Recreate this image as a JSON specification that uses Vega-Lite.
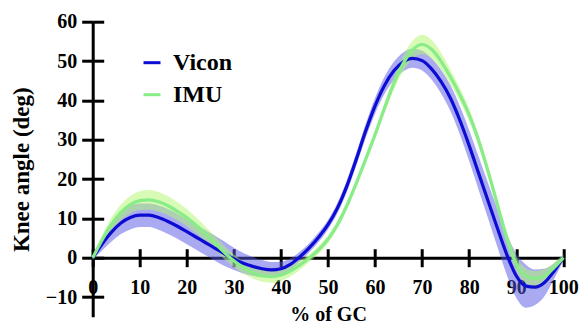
{
  "$schema": "https://vega.github.io/schema/vega-lite/v6.json",
  "width": 470.6,
  "height": 295,
  "autosize": "none",
  "padding": {"left": 92.7, "top": 21.7, "right": 18.7, "bottom": 9.3},
  "background": "white",
  "config": {"view": {"stroke": null}, "font": "Liberation Serif"},
  "data": {"values": [
    {"x": 0, "s": "Vicon", "m": 0, "lo": -0.5, "hi": 0.5},
    {"x": 2, "s": "Vicon", "m": 3.5, "lo": 1.8, "hi": 5.2},
    {"x": 4, "s": "Vicon", "m": 6.5, "lo": 4.1, "hi": 8.9},
    {"x": 6, "s": "Vicon", "m": 8.8, "lo": 6.0, "hi": 11.6},
    {"x": 8, "s": "Vicon", "m": 10.2, "lo": 7.2, "hi": 13.2},
    {"x": 10, "s": "Vicon", "m": 10.8, "lo": 7.8, "hi": 13.8},
    {"x": 12, "s": "Vicon", "m": 10.8, "lo": 7.8, "hi": 13.8},
    {"x": 14, "s": "Vicon", "m": 10.2, "lo": 7.1, "hi": 13.3},
    {"x": 16, "s": "Vicon", "m": 9.2, "lo": 6.0, "hi": 12.4},
    {"x": 18, "s": "Vicon", "m": 8.0, "lo": 4.8, "hi": 11.2},
    {"x": 20, "s": "Vicon", "m": 6.6, "lo": 3.4, "hi": 9.8},
    {"x": 22, "s": "Vicon", "m": 5.2, "lo": 2.0, "hi": 8.4},
    {"x": 24, "s": "Vicon", "m": 3.8, "lo": 0.6, "hi": 7.0},
    {"x": 26, "s": "Vicon", "m": 2.4, "lo": -0.8, "hi": 5.6},
    {"x": 28, "s": "Vicon", "m": 1.0, "lo": -2.1, "hi": 4.1},
    {"x": 30, "s": "Vicon", "m": -0.3, "lo": -3.1, "hi": 2.5},
    {"x": 32, "s": "Vicon", "m": -1.4, "lo": -4.0, "hi": 1.2},
    {"x": 34, "s": "Vicon", "m": -2.2, "lo": -4.6, "hi": 0.2},
    {"x": 36, "s": "Vicon", "m": -2.8, "lo": -5.0, "hi": -0.6},
    {"x": 38, "s": "Vicon", "m": -3.1, "lo": -5.1, "hi": -1.1},
    {"x": 40, "s": "Vicon", "m": -2.8, "lo": -4.6, "hi": -1.0},
    {"x": 42, "s": "Vicon", "m": -1.7, "lo": -3.2, "hi": -0.2},
    {"x": 44, "s": "Vicon", "m": 0.2, "lo": -1.1, "hi": 1.5},
    {"x": 46, "s": "Vicon", "m": 2.5, "lo": 1.3, "hi": 3.7},
    {"x": 48, "s": "Vicon", "m": 5.2, "lo": 4.0, "hi": 6.4},
    {"x": 50, "s": "Vicon", "m": 8.4, "lo": 7.2, "hi": 9.6},
    {"x": 52, "s": "Vicon", "m": 12.6, "lo": 11.3, "hi": 13.9},
    {"x": 54, "s": "Vicon", "m": 18.2, "lo": 16.7, "hi": 19.7},
    {"x": 56, "s": "Vicon", "m": 25.0, "lo": 23.4, "hi": 26.6},
    {"x": 58, "s": "Vicon", "m": 32.2, "lo": 30.4, "hi": 34.0},
    {"x": 60, "s": "Vicon", "m": 38.6, "lo": 36.6, "hi": 40.6},
    {"x": 62, "s": "Vicon", "m": 43.8, "lo": 41.6, "hi": 46.0},
    {"x": 64, "s": "Vicon", "m": 47.5, "lo": 45.2, "hi": 49.8},
    {"x": 66, "s": "Vicon", "m": 49.8, "lo": 47.4, "hi": 52.2},
    {"x": 68, "s": "Vicon", "m": 50.7, "lo": 48.3, "hi": 53.1},
    {"x": 70, "s": "Vicon", "m": 50.1, "lo": 47.6, "hi": 52.6},
    {"x": 72, "s": "Vicon", "m": 48.0, "lo": 45.3, "hi": 50.7},
    {"x": 74, "s": "Vicon", "m": 44.8, "lo": 41.8, "hi": 47.8},
    {"x": 76, "s": "Vicon", "m": 40.6, "lo": 37.3, "hi": 43.9},
    {"x": 78, "s": "Vicon", "m": 35.0, "lo": 31.4, "hi": 38.6},
    {"x": 80, "s": "Vicon", "m": 28.5, "lo": 24.6, "hi": 32.4},
    {"x": 82, "s": "Vicon", "m": 21.5, "lo": 17.3, "hi": 25.7},
    {"x": 84, "s": "Vicon", "m": 14.5, "lo": 10.0, "hi": 19.0},
    {"x": 86, "s": "Vicon", "m": 7.5, "lo": 2.7, "hi": 12.3},
    {"x": 88, "s": "Vicon", "m": 0.8, "lo": -4.4, "hi": 6.0},
    {"x": 90, "s": "Vicon", "m": -4.6, "lo": -10.2, "hi": 1.0},
    {"x": 92, "s": "Vicon", "m": -7.2, "lo": -12.7, "hi": -1.7},
    {"x": 94, "s": "Vicon", "m": -7.5, "lo": -12.0, "hi": -3.0},
    {"x": 96, "s": "Vicon", "m": -6.3, "lo": -9.8, "hi": -2.8},
    {"x": 98, "s": "Vicon", "m": -3.5, "lo": -5.5, "hi": -1.5},
    {"x": 100, "s": "Vicon", "m": 0, "lo": -0.8, "hi": 0.8},
    {"x": 0, "s": "IMU", "m": 0, "lo": -0.5, "hi": 0.5},
    {"x": 2, "s": "IMU", "m": 4.5, "lo": 3.3, "hi": 5.7},
    {"x": 4, "s": "IMU", "m": 8.5, "lo": 6.8, "hi": 10.2},
    {"x": 6, "s": "IMU", "m": 11.5, "lo": 9.5, "hi": 13.5},
    {"x": 8, "s": "IMU", "m": 13.5, "lo": 11.3, "hi": 15.7},
    {"x": 10, "s": "IMU", "m": 14.5, "lo": 12.1, "hi": 16.9},
    {"x": 12, "s": "IMU", "m": 14.7, "lo": 12.2, "hi": 17.2},
    {"x": 14, "s": "IMU", "m": 14.2, "lo": 11.7, "hi": 16.7},
    {"x": 16, "s": "IMU", "m": 13.2, "lo": 10.8, "hi": 15.6},
    {"x": 18, "s": "IMU", "m": 11.8, "lo": 9.5, "hi": 14.1},
    {"x": 20, "s": "IMU", "m": 10.2, "lo": 8.0, "hi": 12.4},
    {"x": 22, "s": "IMU", "m": 8.2, "lo": 6.2, "hi": 10.2},
    {"x": 24, "s": "IMU", "m": 6.0, "lo": 4.1, "hi": 7.9},
    {"x": 26, "s": "IMU", "m": 3.7, "lo": 1.9, "hi": 5.5},
    {"x": 28, "s": "IMU", "m": 1.3, "lo": -0.4, "hi": 3.0},
    {"x": 30, "s": "IMU", "m": -0.8, "lo": -2.4, "hi": 0.8},
    {"x": 32, "s": "IMU", "m": -2.5, "lo": -4.0, "hi": -1.0},
    {"x": 34, "s": "IMU", "m": -3.8, "lo": -5.3, "hi": -2.3},
    {"x": 36, "s": "IMU", "m": -4.6, "lo": -6.1, "hi": -3.1},
    {"x": 38, "s": "IMU", "m": -4.8, "lo": -6.4, "hi": -3.2},
    {"x": 40, "s": "IMU", "m": -4.4, "lo": -5.9, "hi": -2.9},
    {"x": 42, "s": "IMU", "m": -3.4, "lo": -4.8, "hi": -2.0},
    {"x": 44, "s": "IMU", "m": -1.9, "lo": -3.1, "hi": -0.7},
    {"x": 46, "s": "IMU", "m": -0.1, "lo": -1.1, "hi": 0.9},
    {"x": 48, "s": "IMU", "m": 2.0, "lo": 1.0, "hi": 3.0},
    {"x": 50, "s": "IMU", "m": 4.7, "lo": 3.7, "hi": 5.7},
    {"x": 52, "s": "IMU", "m": 8.4, "lo": 7.4, "hi": 9.4},
    {"x": 54, "s": "IMU", "m": 13.2, "lo": 12.2, "hi": 14.2},
    {"x": 56, "s": "IMU", "m": 18.9, "lo": 17.9, "hi": 19.9},
    {"x": 58, "s": "IMU", "m": 25.0, "lo": 24.0, "hi": 26.0},
    {"x": 60, "s": "IMU", "m": 31.3, "lo": 30.3, "hi": 32.3},
    {"x": 62, "s": "IMU", "m": 38.0, "lo": 36.7, "hi": 39.3},
    {"x": 64, "s": "IMU", "m": 44.3, "lo": 42.7, "hi": 45.9},
    {"x": 66, "s": "IMU", "m": 49.4, "lo": 47.4, "hi": 51.4},
    {"x": 68, "s": "IMU", "m": 52.9, "lo": 50.6, "hi": 55.2},
    {"x": 70, "s": "IMU", "m": 54.2, "lo": 51.7, "hi": 56.7},
    {"x": 72, "s": "IMU", "m": 53.0, "lo": 50.6, "hi": 55.4},
    {"x": 74, "s": "IMU", "m": 50.0, "lo": 47.8, "hi": 52.2},
    {"x": 76, "s": "IMU", "m": 46.0, "lo": 44.1, "hi": 47.9},
    {"x": 78, "s": "IMU", "m": 41.5, "lo": 39.8, "hi": 43.2},
    {"x": 80, "s": "IMU", "m": 36.3, "lo": 34.7, "hi": 37.9},
    {"x": 82, "s": "IMU", "m": 29.8, "lo": 28.3, "hi": 31.3},
    {"x": 84, "s": "IMU", "m": 22.0, "lo": 20.5, "hi": 23.5},
    {"x": 86, "s": "IMU", "m": 13.5, "lo": 12.0, "hi": 15.0},
    {"x": 88, "s": "IMU", "m": 5.0, "lo": 3.4, "hi": 6.6},
    {"x": 90, "s": "IMU", "m": -1.5, "lo": -3.3, "hi": 0.3},
    {"x": 92, "s": "IMU", "m": -4.5, "lo": -6.4, "hi": -2.6},
    {"x": 94, "s": "IMU", "m": -5.3, "lo": -7.2, "hi": -3.4},
    {"x": 96, "s": "IMU", "m": -4.6, "lo": -6.3, "hi": -2.9},
    {"x": 98, "s": "IMU", "m": -2.6, "lo": -3.9, "hi": -1.3},
    {"x": 100, "s": "IMU", "m": 0, "lo": -0.8, "hi": 0.8}
  ]},
  "layer": [
    {
      "mark": {"type": "area", "interpolate": "monotone", "opacity": 0.5},
      "encoding": {
        "x": {"field": "x", "type": "quantitative", "scale": {"domain": [0, 100], "nice": false},
          "axis": {"orient": "bottom", "offset": -59, "values": [0, 10, 20, 30, 40, 50, 60, 70, 80, 90, 100],
            "tickSize": 9, "tickWidth": 3, "tickColor": "black", "domainWidth": 3, "domainColor": "black",
            "labelFont": "Liberation Serif", "labelFontWeight": "bold", "labelFontSize": 20, "labelColor": "black",
            "labelPadding": 11, "labelFlush": false, "labelOverlap": false, "grid": false,
            "title": "% of GC", "titleFont": "Liberation Serif", "titleFontSize": 20, "titleFontWeight": "bold",
            "titleColor": "black", "titlePadding": 7}},
        "y": {"field": "lo", "type": "quantitative", "scale": {"domain": [-15, 60], "nice": false},
          "axis": {"orient": "left", "values": [-10, 0, 10, 20, 30, 40, 50, 60],
            "tickSize": 11, "tickWidth": 3, "tickColor": "black", "domainWidth": 3, "domainColor": "black",
            "labelFont": "Liberation Serif", "labelFontWeight": "bold", "labelFontSize": 20, "labelColor": "black",
            "labelPadding": 5, "labelOverlap": false, "grid": false,
            "title": "Knee angle (deg)", "titleFont": "Liberation Serif", "titleFontSize": 23, "titleFontWeight": "bold",
            "titleColor": "black", "titlePadding": 12}},
        "y2": {"field": "hi"},
        "color": {"field": "s", "type": "nominal", "scale": {"domain": ["Vicon", "IMU"], "range": ["#5555e6", "#b0f56a"]}, "legend": null}
      }
    },
    {
      "mark": {"type": "line", "interpolate": "monotone", "strokeWidth": 3.2},
      "encoding": {
        "x": {"field": "x", "type": "quantitative",
          "axis": {"orient": "bottom", "offset": -59, "values": [0, 10, 20, 30, 40, 50, 60, 70, 80, 90, 100],
            "tickSize": -9, "tickWidth": 3, "tickColor": "black", "domain": false, "labels": false, "grid": false, "title": null}},
        "y": {"field": "m", "type": "quantitative",
          "axis": {"orient": "left", "values": [-10, 0, 10, 20, 30, 40, 50, 60],
            "tickSize": -11, "tickWidth": 3, "tickColor": "black", "domain": false, "labels": false, "grid": false, "title": null}},
        "color": {"field": "s", "type": "nominal", "scale": {"domain": ["Vicon", "IMU"], "range": ["#0c0cd2", "#88ec88"]},
          "legend": {"orient": "none", "legendX": 47.3, "legendY": 29, "title": null, "padding": 0,
            "symbolType": "stroke", "symbolStrokeWidth": 3, "symbolSize": 289,
            "labelFont": "Liberation Serif", "labelFontWeight": "bold", "labelFontSize": 24, "labelColor": "black",
            "labelOffset": 9, "rowPadding": 8}}
      }
    }
  ],
  "resolve": {"axis": {"x": "independent", "y": "independent"}, "scale": {"color": "independent"}, "legend": {"color": "independent"}}
}
